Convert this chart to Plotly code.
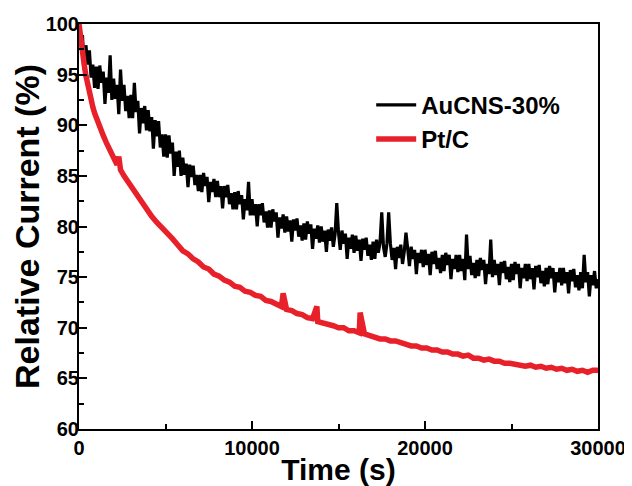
import plotly.graph_objects as go

au_time = list(range(0, 30001, 100))
au_current = [
    100.0, 98.1, 98.9, 95.5, 97.9, 96.0, 97.4, 94.7, 96.0, 93.7,
    95.8, 93.6, 95.9, 94.2, 95.3, 92.1, 94.7, 93.2, 96.9, 92.5,
    94.6, 92.6, 94.0, 91.1, 95.5, 92.4, 94.0, 91.4, 92.9, 90.7,
    93.0, 90.7, 94.2, 91.3, 92.4, 89.2, 91.7, 90.2, 91.9, 89.5,
    91.5, 89.4, 90.8, 87.7, 90.5, 88.9, 90.4, 87.8, 89.1, 86.9,
    89.1, 86.8, 89.0, 87.2, 88.3, 85.0, 87.4, 85.9, 87.5, 85.0,
    86.8, 85.1, 86.2, 83.9, 86.1, 84.9, 86.0, 84.1, 85.1, 83.5,
    85.1, 83.4, 85.3, 84.0, 84.9, 82.4, 84.4, 83.4, 84.7, 82.9,
    84.5, 82.9, 84.0, 81.8, 84.0, 82.9, 84.1, 82.2, 83.3, 81.7,
    83.4, 81.7, 83.5, 82.2, 83.1, 80.7, 82.7, 81.6, 84.4, 81.1,
    82.7, 81.1, 82.2, 80.0, 82.2, 81.1, 82.3, 80.4, 81.5, 79.9,
    81.6, 79.9, 81.7, 80.5, 81.4, 78.9, 80.9, 79.8, 81.2, 79.4,
    81.0, 79.5, 80.6, 78.5, 80.7, 79.6, 80.8, 79.0, 80.1, 78.6,
    80.3, 78.7, 80.5, 79.3, 80.2, 77.8, 79.8, 78.8, 80.1, 78.4,
    80.0, 78.5, 79.6, 77.5, 79.7, 78.6, 79.9, 78.0, 79.2, 82.3,
    79.4, 77.7, 79.6, 78.3, 79.3, 76.8, 78.9, 77.8, 79.2, 77.4,
    79.1, 77.6, 78.7, 76.6, 78.8, 77.7, 78.9, 77.1, 78.2, 76.7,
    78.5, 76.8, 78.7, 77.4, 78.4, 81.4, 78.0, 77.0, 78.3, 81.4,
    78.3, 76.7, 77.9, 75.8, 78.0, 76.9, 78.2, 76.3, 77.5, 79.4,
    77.8, 76.1, 78.0, 76.8, 77.7, 75.3, 77.4, 76.4, 77.7, 76.0,
    77.7, 76.2, 77.3, 75.2, 77.5, 76.3, 77.6, 75.8, 76.9, 75.4,
    77.2, 75.6, 77.4, 76.2, 77.2, 74.8, 76.8, 75.8, 77.2, 75.5,
    77.2, 75.6, 76.8, 74.7, 79.2, 75.8, 77.1, 75.2, 76.4, 74.9,
    76.7, 75.1, 76.9, 75.7, 76.7, 74.3, 76.3, 75.3, 78.7, 75.0,
    76.7, 75.2, 76.3, 74.2, 76.5, 75.4, 76.6, 74.8, 76.0, 74.5,
    76.3, 74.7, 76.5, 75.3, 76.3, 73.9, 75.9, 74.9, 76.3, 74.6,
    76.3, 74.8, 75.9, 73.8, 76.1, 75.0, 76.2, 74.4, 75.6, 74.1,
    75.9, 74.3, 76.1, 74.9, 75.9, 73.5, 75.5, 74.5, 75.9, 74.2,
    75.9, 74.4, 75.5, 73.4, 75.7, 74.6, 75.8, 74.0, 75.2, 73.7,
    75.5, 73.9, 77.2, 74.5, 75.5, 73.1, 75.2, 74.2, 75.6, 73.9,
    74.8,
]

# Pt/C
pt_time = [
    0, 100, 200, 300, 400, 500, 600, 700, 800, 900,
    1000, 1200, 1400, 1600, 1800, 2000, 2200, 2300, 2400, 2600,
    2800, 3000, 3300, 3600, 3900, 4200, 4500, 4800, 5100, 5400,
    5700, 6000, 6300, 6600, 6900, 7200, 7500, 7800, 8100, 8400,
    8700, 9000, 9300, 9600, 9900, 10200, 10500, 10800, 11100, 11400,
    11700, 11800, 12000, 12300, 12600, 12900, 13200, 13500, 13750, 13800,
    14100, 14400, 14700, 15000, 15300, 15600, 15900, 16200, 16250, 16500,
    16800, 17100, 17400, 17700, 18000, 18300, 18600, 18900, 19200, 19500,
    19800, 20100, 20400, 20700, 21000, 21300, 21600, 21900, 22200, 22500,
    22800, 23100, 23400, 23700, 24000, 24300, 24600, 24900, 25200, 25500,
    25800, 26100, 26400, 26700, 27000, 27300, 27600, 27900, 28200, 28500,
    28800, 29100, 29400, 29700, 30000,
]
pt_current = [
    100.0, 98.4, 97.1, 96.0, 94.9, 94.0, 93.2, 92.5, 91.8, 91.2,
    90.7, 89.8, 89.0, 88.2, 87.4, 86.8, 86.1, 86.9, 85.6, 85.0,
    84.5, 83.9, 83.2, 82.4, 81.7, 81.0, 80.4, 79.9, 79.3, 78.8,
    78.2, 77.6, 77.3, 76.8, 76.5, 76.0, 75.8, 75.3, 75.1, 74.7,
    74.5, 74.1, 74.0, 73.6, 73.5, 73.2, 73.1, 72.7, 72.6, 72.3,
    72.1, 73.4, 71.8, 71.7, 71.4, 71.3, 71.0, 70.9, 72.1, 70.6,
    70.5, 70.3, 70.2, 70.0, 70.0, 69.7, 69.7, 69.5, 71.5, 69.4,
    69.2, 69.1, 68.9, 68.9, 68.7, 68.7, 68.5, 68.4, 68.2, 68.2,
    68.0, 68.0, 67.8, 67.8, 67.6, 67.6, 67.4, 67.4, 67.2, 67.3,
    67.0, 67.0, 66.8, 66.9, 66.7, 66.7, 66.5, 66.5, 66.4, 66.4,
    66.2, 66.3, 66.1, 66.2, 66.0, 66.1, 65.9, 66.0, 65.8, 65.9,
    65.7, 65.8, 65.6, 65.8, 65.8,
]

x_ticks = [0, 10000, 20000, 30000]
x_labels = ["0", "10000", "20000", "30000"]
y_ticks = [60, 65, 70, 75, 80, 85, 90, 95, 100]

bold = dict(family="Arial, Liberation Sans, sans-serif", color="black", weight="bold")

fig = go.Figure()
fig.add_trace(go.Scatter(
    x=au_time, y=au_current, mode="lines", name="AuCNS-30%",
    line=dict(color="black", width=3.2),
))
fig.add_trace(go.Scatter(
    x=pt_time, y=pt_current, mode="lines", name="Pt/C",
    line=dict(color="#e8202a", width=5.5),
))

axis_common = dict(
    showline=True, linewidth=2, linecolor="black", mirror=True,
    ticks="inside", ticklen=8, tickwidth=2, tickcolor="black",
    showgrid=False, zeroline=False, automargin=False,
    tickfont=dict(size=20, **bold),
)

# page body has an 8px margin, so the figure is a bit smaller than the window
fig.update_layout(
    width=624, height=478,
    margin=dict(l=71, r=34, t=16, b=57),
    paper_bgcolor="white", plot_bgcolor="white",
    xaxis=dict(
        range=[0, 30000], tickvals=x_ticks, ticktext=x_labels,
        title=dict(text="Time (s)", standoff=2, font=dict(size=30, **bold)),
        minor=dict(dtick=5000, ticks="inside", ticklen=5, tickwidth=2, tickcolor="black"),
        **axis_common,
    ),
    yaxis=dict(
        range=[60, 100], tickvals=y_ticks, ticklabelstandoff=-6,
        title=dict(text="Relative Current (%)", standoff=0, font=dict(size=34, **bold)),
        minor=dict(dtick=2.5, ticks="inside", ticklen=5, tickwidth=2, tickcolor="black"),
        **axis_common,
    ),
    legend=dict(
        x=0.563, y=0.855, xanchor="left", yanchor="top",
        bgcolor="rgba(0,0,0,0)", font=dict(size=24, **bold),
        itemwidth=40, tracegroupgap=0,
    ),
    hovermode=False,
)

fig.write_html("out.html")
